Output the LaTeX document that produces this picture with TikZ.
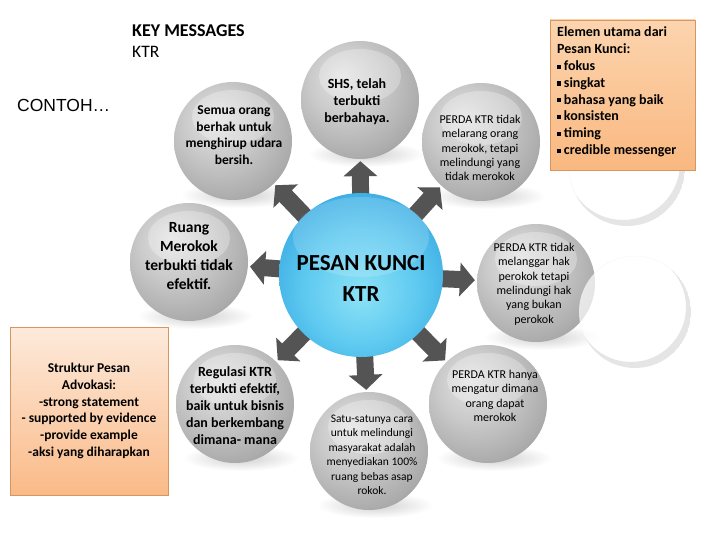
\documentclass[tikz,border=0pt]{standalone}
\usepackage{fontspec}
\setmainfont{Carlito}
\newfontfamily\arialfont{Liberation Sans}
\usetikzlibrary{arrows.meta,calc}
\definecolor{arrgray}{RGB}{84,84,84}
\definecolor{blA}{RGB}{140,226,246}
\definecolor{blB}{RGB}{92,200,240}
\definecolor{blC}{RGB}{48,162,222}
\definecolor{blD}{RGB}{26,122,190}
\definecolor{blE}{RGB}{16,86,150}
\definecolor{gsA}{RGB}{226,226,226}
\definecolor{gsB}{RGB}{202,202,202}
\definecolor{gsC}{RGB}{172,172,172}
\definecolor{gsD}{RGB}{132,132,132}
\definecolor{gsE}{RGB}{88,88,88}
\definecolor{pkA}{RGB}{253,234,219}
\definecolor{pkB}{RGB}{250,186,136}
\definecolor{orA}{RGB}{252,212,174}
\definecolor{orB}{RGB}{249,184,128}
\definecolor{obrd}{RGB}{214,150,96}
\pgfdeclareradialshading{graysph}{\pgfpoint{-8bp}{10bp}}{color(0bp)=(gsA); color(15bp)=(gsB); color(30bp)=(gsC); color(44bp)=(gsD); color(56bp)=(gsE); color(70bp)=(gsE)}
\pgfdeclareradialshading{bluesph}{\pgfpoint{0bp}{-6bp}}{color(0bp)=(blA); color(18bp)=(blB); color(34bp)=(blC); color(46bp)=(blD); color(56bp)=(blE); color(70bp)=(blE)}
\pgfdeclarelayer{bg}
\pgfsetlayers{bg,main}
\newcommand{\sqb}{\rule[0.25ex]{0.3em}{0.3em}\hspace{0.18em}}
\tikzset{
  gsph/.style={circle, minimum size=118pt, inner sep=0pt, shading=graysph},
  bsph/.style={circle, minimum size=164pt, inner sep=0pt, shading=bluesph},
  bigarr/.style={draw=arrgray, line width=17pt, -{Triangle[width=33pt,length=15pt]}, shorten <=-12pt, shorten >=2pt},
  shad/.style={shading=radial, inner color=gray!38, outer color=white},
  ctb/.style={align=center, inner sep=0pt, font=\bfseries\fontsize{13.5}{16.7}\selectfont},
  ctr/.style={align=center, inner sep=0pt, font=\fontsize{12}{14.4}\selectfont},
  hl/.style={white, opacity=0.28},
  ghostline/.style={gray!20},
}
\begin{document}
\begin{tikzpicture}[x=1pt,y=-1pt]
\useasboundingbox (0,0) rectangle (720,540);

% spheres
\node[bsph] (c) at (361,275) {};
\node[gsph] (semua) at (233,141) {};
\node[gsph] (shs) at (360,100) {};
\node[gsph] (p1) at (481,142) {};
\node[gsph] (ruang) at (189,262) {};
\node[gsph] (p2) at (536,283) {};
\node[gsph] (reg) at (235,404) {};
\node[gsph] (satu) at (369,451) {};
\node[gsph] (p3) at (488,404) {};

\begin{pgfonlayer}{bg}
  \fill[white] (0,0) rectangle (720,540);
  \foreach \t in {semua,shs,p1,ruang,p2,reg,satu,p3}
    \shade[shad] ($(\t)+(6,54)$) ellipse (58 and 13);
  \foreach \t in {semua,shs,p1,ruang,p2,reg,satu,p3}
    \draw[bigarr] (c) -- (\t);
\end{pgfonlayer}

% highlights
\foreach \t in {semua,shs,p1,ruang,p2,reg,satu,p3}
  \fill[hl] ($(\t)+(0,-24)$) ellipse (41 and 27);
\fill[white, opacity=0.16] ($(c)+(0,-38)$) ellipse (68 and 40);

% ghost rings on the right
\coordinate (gA) at (627,168);
\coordinate (gB) at (635,312);
\fill[white, opacity=0.7] (gB) circle (56);
\begin{scope}
  \clip (gA) circle (58);
  \fill[ghostline, even odd rule] (gA) circle (58) ($(gA)+(-4,-5)$) circle (57);
\end{scope}
\begin{scope}
  \clip (gB) circle (56);
  \fill[ghostline, even odd rule] (gB) circle (56) ($(gB)+(-4,-5)$) circle (55);
\end{scope}

% sphere texts
\node[ctb] at (234,135) {Semua orang\\berhak untuk\\menghirup udara\\bersih.};
\node[ctb, font=\bfseries\fontsize{14}{17}\selectfont] at (357,102) {SHS, telah\\terbukti\\berbahaya.};
\node[ctr] at (480,148) {PERDA KTR tidak\\melarang orang\\merokok, tetapi\\melindungi yang\\tidak merokok};
\node[ctb, font=\bfseries\fontsize{15.5}{19}\selectfont] at (189,256) {Ruang\\Merokok\\terbukti tidak\\efektif.};
\node[ctr] at (534,284) {PERDA KTR tidak\\melanggar hak\\perokok tetapi\\melindungi hak\\yang bukan\\perokok};
\node[ctb, font=\bfseries\fontsize{14}{17}\selectfont] at (235,406) {Regulasi KTR\\terbukti efektif,\\baik untuk bisnis\\dan berkembang\\dimana- mana};
\node[ctr, font=\fontsize{11.5}{14.5}\selectfont] at (372,455) {Satu-satunya cara\\untuk melindungi\\masyarakat adalah\\menyediakan 100\%\\ruang bebas asap\\rokok.};
\node[ctr] at (495,396) {PERDA KTR hanya\\mengatur dimana\\orang dapat\\merokok};
\node[align=center, inner sep=0pt, font=\bfseries\fontsize{23}{31}\selectfont] at (361,278) {PESAN KUNCI\\KTR};

% headings
\node[anchor=west, inner sep=0pt, font=\bfseries\fontsize{18}{20}\selectfont] (km) at (132,31) {KEY MESSAGES};
\node[anchor=west, inner sep=0pt, font=\fontsize{17.5}{20}\selectfont] (ktr) at (132,52) {KTR};
\node[anchor=west, inner sep=0pt, font=\arialfont\fontsize{17.5}{20}\selectfont] (contoh) at (17,105) {CONTOH…};

% right box
\node[draw=obrd, line width=0.8pt, top color=orA, bottom color=orB, minimum width=145pt, minimum height=150pt, inner sep=0pt] (rbox) at (622.5,95) {};
\node[anchor=west, align=left, inner sep=0pt, font=\bfseries\fontsize{14}{16.8}\selectfont] (rtext) at (557,92)
  {Elemen utama dari\\Pesan Kunci:\\\sqb fokus\\\sqb singkat\\\sqb bahasa yang baik\\\sqb konsisten\\\sqb timing\\\sqb credible messenger};

% left box
\node[draw=obrd, line width=0.8pt, top color=pkA, bottom color=pkB, minimum width=158pt, minimum height=168pt, inner sep=0pt, align=center, font=\bfseries\fontsize{13.5}{16.7}\selectfont] (lbox) at (89,411)
  {Struktur Pesan\\Advokasi:\\-strong statement\\- supported by evidence\\-provide example\\-aksi yang diharapkan};
\end{tikzpicture}
\end{document}
